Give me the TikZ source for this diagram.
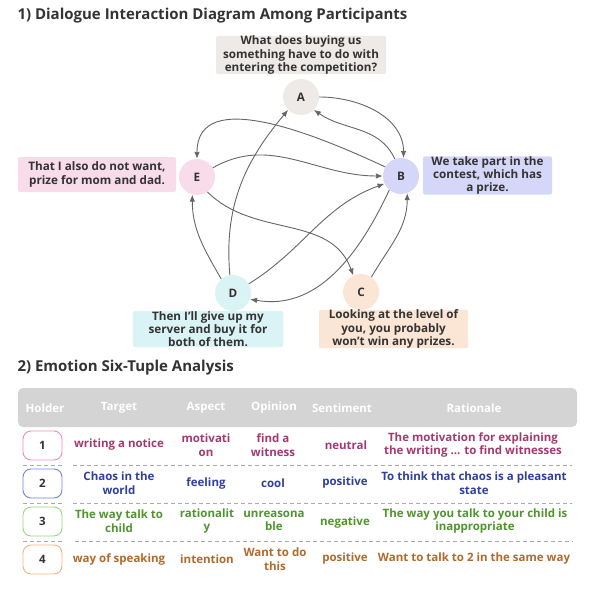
\documentclass[tikz,border=0pt]{standalone}
\usepackage{fontspec}
\setmainfont{Open Sans}
\usetikzlibrary{arrows.meta}
\definecolor{ink}{HTML}{333333}
\definecolor{edge}{HTML}{666666}
\definecolor{cA}{HTML}{EEEAE8}
\definecolor{cB}{HTML}{D5D7F8}
\definecolor{cC}{HTML}{FBE6D6}
\definecolor{cD}{HTML}{DAF3F4}
\definecolor{cE}{HTML}{F9DCEA}
\definecolor{hdr}{HTML}{D4D4D4}
\definecolor{rOne}{HTML}{A23A70}
\definecolor{rTwo}{HTML}{2F3F9E}
\definecolor{rThree}{HTML}{4F952E}
\definecolor{rFour}{HTML}{B06A2C}
\definecolor{bOne}{HTML}{F08BBE}
\definecolor{bTwo}{HTML}{6F82F0}
\definecolor{bThree}{HTML}{92D77E}
\definecolor{bFour}{HTML}{F3B27F}
\definecolor{sep}{HTML}{AAAAAA}
\tikzset{
  txt/.style={font=\bfseries\fontsize{11.7}{13.3}\selectfont, align=center, text=ink},
  person/.style={circle, minimum size=36pt, inner sep=0pt, txt},
  lbl/.style={rectangle, rounded corners=2pt, inner sep=0pt, txt},
  conn/.style={draw=edge, line width=0.9pt, -{Latex[length=7pt,width=5.5pt]}},
  hd/.style={font=\bfseries\fontsize{11.5}{13.5}\selectfont, text=white, align=center},
  cell/.style={font=\bfseries\fontsize{11.5}{13.5}\selectfont, align=center},
  numbox/.style={rectangle, rounded corners=8pt, line width=0.9pt, minimum width=39pt, minimum height=29pt, inner sep=0pt, font=\bfseries\fontsize{11.5}{13.5}\selectfont, text=ink},
  sepline/.style={draw=sep, line width=0.9pt, dash pattern=on 4pt off 3pt},
  ttl/.style={font=\bfseries\fontsize{15}{18}\selectfont, text=ink, anchor=west}
}
\begin{document}
\begin{tikzpicture}[x=1pt,y=1pt]
\useasboundingbox (0,0) rectangle (598,-597);
% titles
\node[ttl] (t1) at (14,-16) {1) Dialogue Interaction Diagram Among Participants};
\node[ttl] (t2) at (14,-368) {2) Emotion Six-Tuple Analysis};
% participants
\node[person, fill=cA] (A) at (301,-97) {A};
\node[person, fill=cB] (B) at (401,-176) {B};
\node[person, fill=cC] (C) at (361,-292) {C};
\node[person, fill=cD] (D) at (233,-293) {D};
\node[person, fill=cE] (E) at (197,-177) {E};
% labels
\node[lbl, fill=cA, minimum width=170pt, minimum height=36pt] (la) at (301,-55) {What does buying us\\something have to do with\\entering the competition?};
\node[lbl, fill=cE, minimum width=158pt, minimum height=35pt] (le) at (97,-174.5) {That I also do not want,\\prize for mom and dad.};
\node[lbl, fill=cB, minimum width=129pt, minimum height=35pt] (lb) at (487.5,-175.5) {We take part in the\\contest, which has\\a prize.};
\node[lbl, fill=cD, minimum width=150pt, minimum height=36pt] (ld) at (208,-329) {Then I'll give up my\\server and buy it for\\both of them.};
\node[lbl, fill=cC, minimum width=149pt, minimum height=36pt] (lc) at (393.5,-329) {Looking at the level of\\you, you probably\\won't win any prizes.};
% connectors
\draw[conn] (A.0) to[out=0,in=90] (B.82);
\draw[conn] (B.110) to[out=115,in=-35] (A.-45);
\draw[conn] (B.150) to[out=155,in=90] (E.90);
\draw[conn] (E.30) to[out=30,in=180] (B.180);
\draw[conn] (E.-55) to[out=-45,in=110] (C.115);
\draw[conn] (D.130) to[out=120,in=-90] (E.-105);
\draw[conn] (D.100) to[out=95,in=-130] (A.-135);
\draw[conn] (D.30) to[out=32,in=-160] (B.-155);
\draw[conn] (B.-130) to[out=-115,in=-10] (D.-20);
\draw[conn] (C.55) to[out=60,in=-90] (B.-70);
% table header
\path[fill=hdr, rounded corners=5pt] (18,-388) rectangle (577,-427);
\node[hd] (h1) at (45,-408) {Holder};
\node[hd] (h2) at (119,-408) {Target};
\node[hd] (h3) at (206,-408) {Aspect};
\node[hd] (h4) at (274,-408) {Opinion};
\node[hd] (h5) at (342,-408) {Sentiment};
\node[hd] (h6) at (474,-408) {Rationale};
% row 1
\node[numbox, draw=bOne] (n1) at (42.5,-445.5) {1};
\node[cell, text=rOne] (r1a) at (119,-445) {writing a notice};
\node[cell, text=rOne] (r1b) at (206,-445) {motivati\\on};
\node[cell, text=rOne] (r1c) at (273,-445) {find a\\witness};
\node[cell, text=rOne] (r1d) at (346,-445) {neutral};
\node[cell, text=rOne] (r1e) at (473,-445) {The motivation for explaining\\the writing ... to find witnesses};
\draw[sepline] (23,-465) -- (62,-465);
\draw[sepline] (73,-465) -- (572,-465);
% row 2
\node[numbox, draw=bTwo] (n2) at (42.5,-483.5) {2};
\node[cell, text=rTwo] (r2a) at (119,-483) {Chaos in the\\world};
\node[cell, text=rTwo] (r2b) at (206,-483) {feeling};
\node[cell, text=rTwo] (r2c) at (273,-483) {cool};
\node[cell, text=rTwo] (r2d) at (345,-483) {positive};
\node[cell, text=rTwo] (r2e) at (474,-483) {To think that chaos is a pleasant\\state};
\draw[sepline] (23,-503) -- (62,-503);
\draw[sepline] (73,-503) -- (572,-503);
% row 3
\node[numbox, draw=bThree] (n3) at (42.5,-521.5) {3};
\node[cell, text=rThree] (r3a) at (119,-521) {The way talk to\\child};
\node[cell, text=rThree] (r3b) at (207,-521) {rationalit\\y};
\node[cell, text=rThree] (r3c) at (274,-521) {unreasona\\ble};
\node[cell, text=rThree] (r3d) at (345,-523) {negative};
\node[cell, text=rThree] (r3e) at (475,-521) {The way you talk to your child is\\inappropriate};
\draw[sepline] (23,-541) -- (62,-541);
\draw[sepline] (75,-541) -- (573,-541);
% row 4
\node[numbox, draw=bFour] (n4) at (42.5,-559.5) {4};
\node[cell, text=rFour] (r4a) at (119,-559) {way of speaking};
\node[cell, text=rFour] (r4b) at (207,-559) {intention};
\node[cell, text=rFour] (r4c) at (275,-559) {Want to do\\this};
\node[cell, text=rFour] (r4d) at (345,-559) {positive};
\node[cell, text=rFour] (r4e) at (474,-559) {Want to talk to 2 in the same way};
\end{tikzpicture}
\end{document}
